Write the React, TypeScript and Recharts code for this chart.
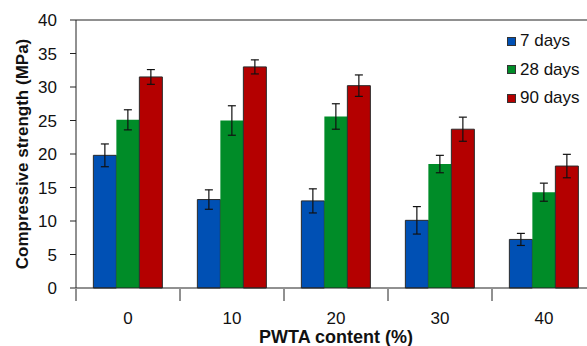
import { BarChart, Bar, XAxis, YAxis, ErrorBar, ReferenceLine } from 'recharts'

const contents = ['0', '10', '20', '30', '40']
const days7 = [19.8, 13.2, 13.0, 10.1, 7.25]
const days7Err = [1.7, 1.45, 1.8, 2.05, 0.9]
const days28 = [25.1, 25.0, 25.6, 18.5, 14.3]
const days28Err = [1.5, 2.2, 1.9, 1.3, 1.35]
const days90 = [31.5, 33.0, 30.2, 23.7, 18.2]
const days90Err = [1.1, 1.05, 1.6, 1.8, 1.75]
const yTicks = [0, 5, 10, 15, 20, 25, 30, 35, 40]

const series = [
  { key: 'd7', name: '7 days', fill: '#0050b4', stroke: '#2a2a2a' },
  { key: 'd28', name: '28 days', fill: '#008c28', stroke: 'none' },
  { key: 'd90', name: '90 days', fill: '#b40000', stroke: '#2a2a2a' },
]

const data = contents.map((c, i) => ({
  content: c,
  d7: days7[i],
  d7e: days7Err[i],
  d28: days28[i],
  d28e: days28Err[i],
  d90: days90[i],
  d90e: days90Err[i],
}))

const font = '"Liberation Sans", Arial, sans-serif'

// category label plus the boundary tick marks between groups
function CatTick(props: any) {
  const { x, y, payload, index, visibleTicksCount } = props
  const half = payload.offset ?? 0
  const axisY = y - 18
  const last = index === visibleTicksCount - 1
  return (
    <g>
      <line x1={x - half} x2={x - half} y1={axisY - 5} y2={axisY + 7} stroke="#222" />
      {last && <line x1={x + half} x2={x + half} y1={axisY - 5} y2={axisY + 7} stroke="#222" />}
      <text x={x} y={y} dy="0.71em" textAnchor="middle" fontSize={17} fill="#111" fontFamily={font}>
        {payload.value}
      </text>
    </g>
  )
}

function LegendBox() {
  return (
    <div
      style={{
        position: 'absolute',
        left: 507,
        top: 27,
        fontFamily: font,
        fontSize: 17,
        color: '#111',
      }}
    >
      {series.map((s) => (
        <div key={s.key} style={{ display: 'flex', alignItems: 'center', height: 28.5 }}>
          <span
            style={{
              width: 7,
              height: 7,
              background: s.fill,
              border: '1px solid #333',
              marginRight: 4,
              display: 'inline-block',
            }}
          />
          {s.name}
        </div>
      ))}
    </div>
  )
}

export default function App() {
  return (
    <div style={{ width: 587, height: 346, overflow: 'hidden', position: 'relative', background: '#fff' }}>
      <style>{'body{margin:0}'}</style>
      <BarChart
        width={620}
        height={346}
        data={data}
        margin={{ top: 20, right: 24, left: 0, bottom: 0 }}
        barCategoryGap="16.7%"
        barGap={0}
      >
        <XAxis
          dataKey="content"
          height={58}
          stroke="#222"
          tickLine={false}
          tick={<CatTick />}
          tickMargin={18}
          interval={0}
          label={{
            value: 'PWTA content (%)',
            position: 'insideBottom',
            offset: 3,
            style: { fontSize: 18, fontWeight: 'bold', fill: '#111', fontFamily: font },
          }}
        />
        <YAxis
          width={76}
          domain={[0, 40]}
          ticks={yTicks}
          interval={0}
          stroke="#222"
          tickSize={6}
          tick={{ fontSize: 17, fill: '#111', fontFamily: font, dx: -11 }}
          label={{
            value: 'Compressive strength (MPa)',
            angle: -90,
            position: 'center',
            dx: -16,
            style: { fontSize: 17, fontWeight: 'bold', fill: '#111', fontFamily: font, textAnchor: 'middle' },
          }}
        />
        <ReferenceLine y={40} stroke="#222" />
        {series.map((s) => (
          <Bar
            key={s.key}
            dataKey={s.key}
            name={s.name}
            fill={s.fill}
            stroke={s.stroke}
            strokeWidth={1}
            isAnimationActive={false}
          >
            <ErrorBar dataKey={s.key + 'e'} width={4} stroke="#111" strokeWidth={1.2} />
          </Bar>
        ))}
      </BarChart>
      <LegendBox />
    </div>
  )
}
